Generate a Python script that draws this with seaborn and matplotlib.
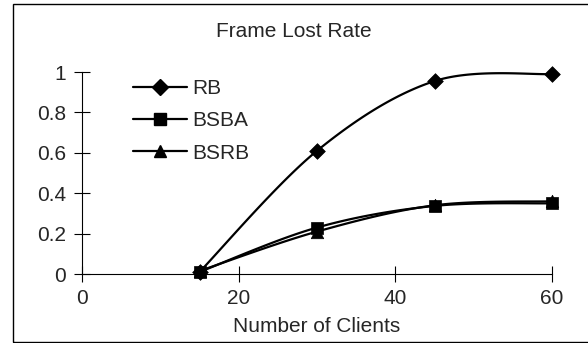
import matplotlib
matplotlib.use("Agg")
import matplotlib.pyplot as plt
import numpy as np
import seaborn as sns
from matplotlib.lines import Line2D
from matplotlib.patches import Rectangle

clients = [15, 30, 45, 60]
rb = [0.01, 0.61, 0.955, 0.99]
bsba = [0.01, 0.23, 0.337, 0.35]
bsrb = [0.015, 0.21, 0.34, 0.36]

series_names = ["RB", "BSBA", "BSRB"]
series_values = [rb, bsba, bsrb]
series_markers = ["D", "s", "^"]
marker_sizes = [8, 8.5, 9]

x_ticks = [0, 20, 40, 60]
y_ticks = [0, 0.2, 0.4, 0.6, 0.8, 1]
y_tick_labels = ["0", "0.2", "0.4", "0.6", "0.8", "1"]


def smooth(x, y, n=40):
    # catmull-rom style bezier, like a spreadsheet "smoothed line"
    x = np.asarray(x, float)
    y = np.asarray(y, float)
    px = np.concatenate([[x[0]], x, [x[-1]]])
    py = np.concatenate([[y[0]], y, [y[-1]]])
    xs, ys = [], []
    t = np.linspace(0, 1, n)
    for i in range(1, len(px) - 2):
        p0 = np.array([px[i], py[i]])
        p3 = np.array([px[i + 1], py[i + 1]])
        p1 = p0 + (np.array([px[i + 1], py[i + 1]]) - np.array([px[i - 1], py[i - 1]])) / 6
        p2 = p3 - (np.array([px[i + 2], py[i + 2]]) - np.array([px[i], py[i]])) / 6
        pts = (np.outer((1 - t) ** 3, p0) + np.outer(3 * (1 - t) ** 2 * t, p1)
               + np.outer(3 * (1 - t) * t ** 2, p2) + np.outer(t ** 3, p3))
        xs.extend(pts[:, 0])
        ys.extend(pts[:, 1])
    return np.array(xs), np.array(ys)


sns.set_theme(style="white")
plt.rcParams["font.family"] = ["Liberation Sans", "DejaVu Sans"]
plt.rcParams["font.size"] = 15

fig = plt.figure(figsize=(5.88, 3.43), dpi=100)
ax = fig.add_axes([82 / 588, 69 / 343, 470 / 588, 202 / 343])

for name, vals, mk, ms in zip(series_names, series_values, series_markers, marker_sizes):
    xs, ys = smooth(clients, vals)
    sns.lineplot(x=xs, y=ys, color="black", linewidth=1.6, sort=False,
                 estimator=None, ax=ax, clip_on=False)
    sns.scatterplot(x=clients, y=vals, marker=mk, s=ms ** 2, color="black",
                    edgecolor="black", linewidth=0.5, ax=ax, clip_on=False, zorder=5)

ax.set_xlim(0, 60)
ax.set_ylim(0, 1)
ax.set_xticks(x_ticks)
ax.set_yticks(y_ticks)
ax.set_yticklabels(y_tick_labels)
ax.tick_params(bottom=True, left=True, direction="inout", length=11, width=0.8,
               color="black", labelsize=15, pad=5)
ax.tick_params(axis="y", pad=6)
for side in ["top", "right"]:
    ax.spines[side].set_visible(False)
for side in ["left", "bottom"]:
    ax.spines[side].set_color("black")
    ax.spines[side].set_linewidth(0.8)
ax.set_xlabel("")
ax.set_ylabel("")

fig.text(294 / 588, (343 - 37) / 343, "Frame Lost Rate", ha="center",
         va="baseline", fontsize=15)
fig.text(317 / 588, (343 - 332) / 343, "Number of Clients", ha="center",
         va="baseline", fontsize=15)

handles = [Line2D([], [], color="black", linewidth=1.6, marker=mk,
                  markersize=ms, markerfacecolor="black")
           for mk, ms in zip(series_markers, marker_sizes)]
ax.legend(handles, series_names, loc="upper left", frameon=False,
          bbox_to_anchor=(133 / 588, 1 - 79 / 343), bbox_transform=fig.transFigure,
          borderaxespad=0, borderpad=0, handlelength=2.6, handletextpad=0.25,
          labelspacing=0.64, fontsize=15)

fig.add_artist(Rectangle((12.5 / 588, 1.5 / 343), 1.0, 337.5 / 343,
                         transform=fig.transFigure, fill=False,
                         edgecolor="black", linewidth=1.0))

fig.savefig("out.png", dpi=100)
